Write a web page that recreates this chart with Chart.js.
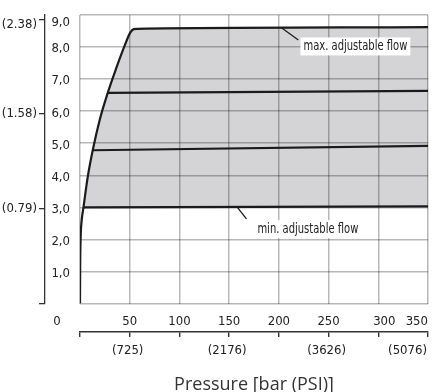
<!DOCTYPE html>
<html><head><meta charset="utf-8">
<script src="https://cdn.jsdelivr.net/npm/chart.js@4/dist/chart.umd.min.js"></script>
<style>html,body{margin:0;padding:0;background:#fff}#wrap{width:432px;height:392px;position:relative}</style>
</head><body><div id="wrap"><canvas id="c" width="432" height="392"></canvas></div>
<script>
// ---- data ----
const pressureTicks = [0, 50, 100, 150, 200, 250, 300, 350];
const psiLabels = ['', '(725)', '', '(2176)', '', '(3626)', '', '(5076)'];
const flowTicks = [0, 1, 2, 3, 4, 5, 6, 7, 8, 9];
const gpmTickValues = [0, 3, 6, 9];
const gpmTickLabels = ['', '(0.79)', '(1.58)', '(2.38)'];

const envelopeBar  = [0, 0.2, 0.6, 1.4, 3.5, 7.8, 12.8, 20, 27.9, 36, 45, 50.5, 54, 58, 350];
const envelopeFlow = [0, 1.2, 2.0, 2.5, 3.0, 3.95, 4.78, 5.75, 6.57, 7.3, 8.05, 8.45, 8.56, 8.57, 8.62];
const minLineBar = [3.5, 350];   const minLineFlow = [3.0, 3.03];
const midLineBar = [12.8, 350];  const midLineFlow = [4.78, 4.92];
const highLineBar = [27.9, 350]; const highLineFlow = [6.57, 6.63];

const noteTexts = ['max. adjustable flow', 'min. adjustable flow'];
const noteAt    = [[224.7, 8.02], [178.4, 2.32]];
const noteFrom  = [[202.6, 8.6], [158.3, 3.0]];
const noteTo    = [[219.6, 8.22], [167.4, 2.64]];
const noteWidthBar = [104.5, 101.5];

const COND = "'DejaVu Sans Condensed','Liberation Sans Narrow','Arial Narrow','Liberation Sans',Arial,sans-serif";
const pts = (xs, ys) => xs.map((x, i) => ({x, y: ys[i]}));
const areaStart = envelopeBar.indexOf(minLineBar[0]);

const lineStyle = {borderColor: '#1b1b1b', borderWidth: 2.2, pointRadius: 0, fill: false, cubicInterpolationMode: 'monotone'};

const tweakPlugin = {
  id: 'tweak',
  beforeDraw(chart) {
    const s = chart.scales;
    s.y.getLabelItems().forEach(it => {
      it.options.translation[1] += 2;
      if (it.label === '9,0') it.options.translation[1] += 6;
    });
    s.y2.getLabelItems().forEach(it => {
      if (it.label === '(2.38)') it.options.translation[1] += 5;
    });
    s.x.getLabelItems().forEach(it => {
      if (it.label === '0') it.options.translation[0] -= 23;
      if (it.label === '300') it.options.translation[0] += 6;
      if (it.label === '350') { it.options.textAlign = 'right'; it.options.translation[0] = chart.chartArea.right; }
    });
    s.x2.getLabelItems().forEach(it => {
      if (it.label === '(5076)') { it.options.textAlign = 'right'; it.options.translation[0] = chart.chartArea.right - 1; }
      else it.options.translation[0] -= 2;
    });
  },
  afterDatasetsDraw(chart) {
    const ctx = chart.ctx, xs = chart.scales.x, ys = chart.scales.y;
    ctx.save();
    ctx.font = "14.5px " + COND;
    noteTexts.forEach((t, i) => {
      const px = xs.getPixelForValue(noteAt[i][0]), py = ys.getPixelForValue(noteAt[i][1]);
      const w = ctx.measureText(t).width;
      const target = xs.getPixelForValue(noteAt[i][0] + noteWidthBar[i]) - px;
      const k = Math.min(1, target / w);
      ctx.fillStyle = '#fff';
      ctx.fillRect(px - 3, py - 9, w * k + 6, 18);
      ctx.strokeStyle = '#1b1b1b'; ctx.lineWidth = 1.3;
      ctx.beginPath();
      ctx.moveTo(xs.getPixelForValue(noteFrom[i][0]), ys.getPixelForValue(noteFrom[i][1]));
      ctx.lineTo(xs.getPixelForValue(noteTo[i][0]), ys.getPixelForValue(noteTo[i][1]));
      ctx.stroke();
      ctx.save();
      ctx.translate(px, py);
      ctx.scale(k, 1);
      ctx.fillStyle = '#222'; ctx.textAlign = 'left'; ctx.textBaseline = 'middle';
      ctx.fillText(t, 0, 0);
      ctx.restore();
    });
    ctx.restore();
  }
};

const gridStyle = {color: 'rgba(0,0,0,0.28)', lineWidth: 1.5, drawTicks: false};
const tickFont = {family: COND, size: 13};

new Chart(document.getElementById('c'), {
  type: 'line',
  data: {
    datasets: [
      Object.assign({data: pts(envelopeBar, envelopeFlow)}, lineStyle),
      Object.assign({data: pts(minLineBar, minLineFlow)}, lineStyle),
      Object.assign({data: pts(midLineBar, midLineFlow)}, lineStyle),
      Object.assign({data: pts(highLineBar, highLineFlow)}, lineStyle),
      {data: pts(envelopeBar.slice(areaStart), envelopeFlow.slice(areaStart)), borderWidth: 0, pointRadius: 0,
       backgroundColor: '#d4d4d6', fill: 1, cubicInterpolationMode: 'monotone'}
    ]
  },
  options: {
    responsive: false, devicePixelRatio: 1, animation: false,
    layout: {padding: {top: 15, right: 4, left: 0, bottom: 0}},
    plugins: {legend: {display: false}, tooltip: {enabled: false}, filler: {drawTime: 'beforeDraw'}},
    scales: {
      x: {
        type: 'linear', position: 'bottom', min: 0, max: 350,
        afterBuildTicks: s => { s.ticks = pressureTicks.map(v => ({value: v})); },
        afterFit: s => { s.height = 28.5; s.paddingLeft = 0; s.paddingRight = 0; },
        grid: gridStyle, border: {display: false},
        ticks: {autoSkip: false, maxRotation: 0, font: tickFont, color: '#222', padding: 10, callback: v => String(v)}
      },
      x2: {
        type: 'linear', position: 'bottom', min: 0, max: 350,
        afterBuildTicks: s => { s.ticks = pressureTicks.map(v => ({value: v})); },
        afterFit: s => { s.height = 60; s.paddingLeft = 0; s.paddingRight = 0; },
        grid: {drawOnChartArea: false, drawTicks: true, tickLength: 5, color: '#333', lineWidth: 1.4},
        border: {display: true, color: '#333', width: 1.4},
        ticks: {autoSkip: false, maxRotation: 0, font: tickFont, color: '#222', padding: 6,
                callback: (v, i) => psiLabels[pressureTicks.indexOf(v)]},
        title: {display: true, text: 'Pressure [bar (PSI)]', color: '#333',
                font: {family: "'Open Sans','Noto Sans',sans-serif", size: 18, lineHeight: 0.8}, padding: 0}
      },
      y: {
        type: 'linear', position: 'left', min: 0, max: 9,
        afterBuildTicks: s => { s.ticks = flowTicks.map(v => ({value: v})); },
        afterFit: s => { s.width = 35; s.paddingTop = 0; s.paddingBottom = 0; },
        grid: gridStyle, border: {display: false},
        ticks: {font: tickFont, color: '#222', padding: 10,
                callback: v => v === 0 ? '' : v.toFixed(1).replace('.', ',')}
      },
      y2: {
        type: 'linear', position: 'left', min: 0, max: 9.14,
        afterBuildTicks: s => { s.ticks = gpmTickValues.map(v => ({value: v})); },
        afterFit: s => { s.width = 45; s.paddingTop = 0; s.paddingBottom = 0; },
        grid: {drawOnChartArea: false, drawTicks: true, tickLength: 6, color: '#333', lineWidth: 1.3},
        border: {display: true, color: '#333', width: 1.3},
        ticks: {font: tickFont, color: '#222', padding: 2,
                callback: v => gpmTickLabels[gpmTickValues.indexOf(v)]}
      }
    }
  },
  plugins: [tweakPlugin]
});
</script></body></html>
